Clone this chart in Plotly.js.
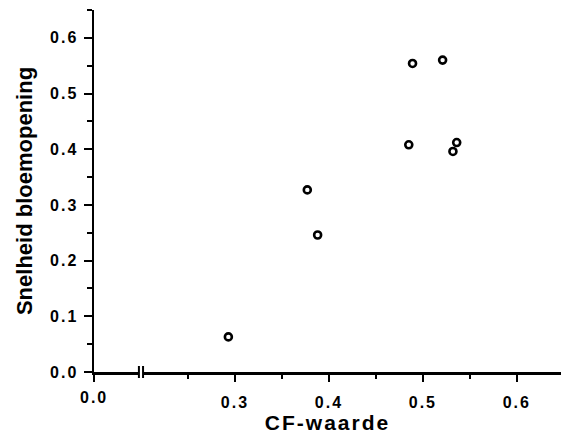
<!DOCTYPE html>
<html>
<head>
<meta charset="utf-8">
<script src="https://cdn.plot.ly/plotly-3.0.1.min.js"></script>
<style>
  html, body { margin: 0; padding: 0; background: #fff; }
  #chart { width: 561px; height: 446px; }
  .xtick text, .ytick text, .annotation-text { letter-spacing: 2px; }
  .xtitle { letter-spacing: 2px; }
</style>
</head>
<body>
<div id="chart"></div>
<script>
// Data (CF-waarde vs Snelheid bloemopening)
const cfValues = [0.293, 0.377, 0.388, 0.485, 0.489, 0.521, 0.532, 0.536];
const speedValues = [0.063, 0.327, 0.246, 0.408, 0.554, 0.560, 0.396, 0.412];

// Axis ticks. The x axis is broken: the "0.0" origin sits left of the break.
const xOriginPos = 0.15;          // where the broken-axis origin is drawn
const xOriginLabel = '0.0';
const xBreakAt = 0.2;
const xTickVals = [0.3, 0.4, 0.5, 0.6];
const xTickText = ['0.3', '0.4', '0.5', '0.6'];
const xMinorVals = [0.25, 0.35, 0.45, 0.55];
const yTickVals = [0, 0.1, 0.2, 0.3, 0.4, 0.5, 0.6];
const yTickText = ['0.0', '0.1', '0.2', '0.3', '0.4', '0.5', '0.6'];
const yMinorVals = [0.05, 0.15, 0.25, 0.35, 0.45, 0.55, 0.65];

const xRange = [0.15, 0.647];
const yRange = [0, 0.65];

const FONT = 'Liberation Sans, Arial, Helvetica, sans-serif';
const xf = v => (v - xRange[0]) / (xRange[1] - xRange[0]);
const plotH = 446 - 10 - 74;
const py = px => px / plotH;

const trace = {
  x: cfValues,
  y: speedValues,
  type: 'scatter',
  mode: 'markers',
  marker: { symbol: 'circle-open', size: 7, color: '#000', line: { width: 2.6, color: '#000' } },
  hoverinfo: 'skip',
  showlegend: false
};

const layout = {
  width: 561,
  height: 446,
  margin: { l: 94, r: 0, t: 10, b: 74, pad: 0 },
  paper_bgcolor: '#fff',
  plot_bgcolor: '#fff',
  font: { family: FONT, color: '#000' },
  showlegend: false,
  xaxis: {
    range: xRange,
    showgrid: false,
    zeroline: false,
    showline: true,
    linecolor: '#000',
    linewidth: 2.5,
    ticks: 'outside',
    ticklen: 7,
    tickwidth: 2,
    tickcolor: '#000',
    tickmode: 'array',
    tickvals: [xOriginPos].concat(xTickVals),
    ticktext: [''].concat(xTickText),
    ticklabelstandoff: 7,
    minor: { tickmode: 'array', tickvals: xMinorVals, ticks: 'outside', ticklen: 4, tickwidth: 2, tickcolor: '#000', showgrid: false },
    tickfont: { family: FONT, size: 16, weight: 'bold', color: '#000' },
    title: { text: 'CF-waarde', font: { family: FONT, size: 21, weight: 'bold', color: '#000' }, standoff: 6 },
    fixedrange: true
  },
  yaxis: {
    range: yRange,
    showgrid: false,
    zeroline: false,
    showline: true,
    linecolor: '#000',
    linewidth: 2.5,
    ticks: 'outside',
    ticklen: 8,
    tickwidth: 2,
    tickcolor: '#000',
    tickmode: 'array',
    tickvals: yTickVals,
    ticktext: yTickText,
    ticklabelstandoff: 2,
    minor: { tickmode: 'array', tickvals: yMinorVals, ticks: 'outside', ticklen: 5, tickwidth: 2, tickcolor: '#000', showgrid: false },
    tickfont: { family: FONT, size: 16, weight: 'bold', color: '#000' },
    title: { text: 'Snelheid bloemopening', font: { family: FONT, size: 22, weight: 'bold', color: '#000' }, standoff: 12 },
    fixedrange: true
  },
  annotations: [{
    x: xOriginPos, xref: 'x', y: py(-25.5), yref: 'paper',
    text: xOriginLabel, showarrow: false, xanchor: 'center', yanchor: 'middle',
    font: { family: FONT, size: 16, weight: 'bold', color: '#000' }
  }],
  shapes: [
    { type: 'rect', xref: 'paper', yref: 'paper', x0: xf(xBreakAt - 0.0022), x1: xf(xBreakAt + 0.0022),
      y0: py(-3), y1: py(3), fillcolor: '#fff', line: { width: 0 }, layer: 'above' },
    { type: 'line', xref: 'paper', yref: 'paper', x0: xf(xBreakAt - 0.0022), x1: xf(xBreakAt - 0.0022),
      y0: py(-6), y1: py(6), line: { color: '#000', width: 2 }, layer: 'above' },
    { type: 'line', xref: 'paper', yref: 'paper', x0: xf(xBreakAt + 0.0022), x1: xf(xBreakAt + 0.0022),
      y0: py(-6), y1: py(6), line: { color: '#000', width: 2 }, layer: 'above' }
  ]
};

Plotly.newPlot('chart', [trace], layout, { staticPlot: true, displayModeBar: false });
</script>
</body>
</html>
